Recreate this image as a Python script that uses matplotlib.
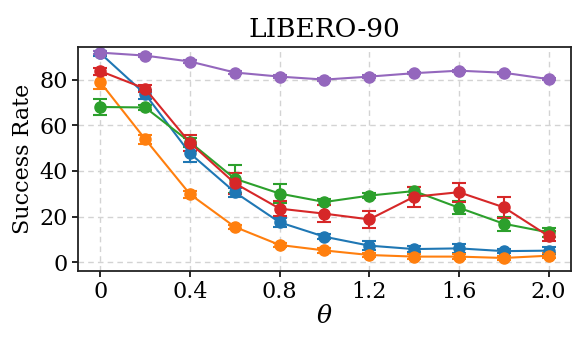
import matplotlib
matplotlib.use("Agg")
import matplotlib.pyplot as plt
import numpy as np

theta = [0, 0.2, 0.4, 0.6, 0.8, 1.0, 1.2, 1.4, 1.6, 1.8, 2.0]
xtick_vals = [0, 0.4, 0.8, 1.2, 1.6, 2.0]
xtick_labels = ["0", "0.4", "0.8", "1.2", "1.6", "2.0"]
ytick_vals = [0, 20, 40, 60, 80]

blue = [91.5, 73.6, 47.7, 30.7, 17.5, 11.2, 7.3, 5.8, 6.1, 4.9, 5.1]
blue_err = [1.0, 2.0, 3.7, 2.0, 2.0, 1.0, 2.0, 1.5, 2.0, 1.0, 1.5]
orange = [78.8, 53.9, 29.8, 15.5, 7.6, 5.2, 3.2, 2.5, 2.5, 1.9, 2.9]
orange_err = [3.0, 2.0, 1.5, 1.0, 1.0, 1.0, 1.0, 1.0, 1.0, 1.0, 1.0]
green = [68.0, 67.8, 52.6, 36.6, 30.1, 26.4, 29.2, 31.2, 23.9, 16.9, 13.1]
green_err = [3.3, 1.0, 2.0, 6.2, 4.1, 1.5, 1.0, 1.9, 2.9, 3.1, 2.0]
red = [83.7, 76.0, 52.3, 34.6, 23.5, 21.3, 18.8, 28.7, 30.7, 24.1, 11.5]
red_err = [1.5, 1.5, 3.5, 4.6, 3.4, 3.6, 3.8, 4.4, 4.2, 4.6, 2.0]
purple = [91.8, 90.5, 87.9, 83.1, 81.3, 80.0, 81.3, 82.8, 83.9, 83.0, 80.2]
purple_err = [0.5, 0.5, 0.5, 0.8, 0.5, 0.5, 0.5, 0.5, 0.5, 0.5, 0.5]

series = [
    (blue, blue_err, "#1f77b4"),
    (orange, orange_err, "#ff7f0e"),
    (green, green_err, "#2ca02c"),
    (red, red_err, "#d62728"),
    (purple, purple_err, "#9467bd"),
]

plt.rcParams["font.family"] = "DejaVu Serif"
plt.rcParams["mathtext.fontset"] = "dejavuserif"

fig = plt.figure(figsize=(5.82, 3.45), dpi=100)
ax = fig.add_axes([0.134, 0.2145, 0.847, 0.6495])

for vals, errs, col in series:
    ax.errorbar(theta, vals, yerr=errs, color=col, marker="o", markersize=8,
                linewidth=1.5, capsize=5, elinewidth=1.5, capthick=1.5)

ax.set_xlim(-0.1, 2.1)
ax.set_ylim(-3.8, 94.3)
ax.set_xticks(xtick_vals)
ax.set_xticklabels(xtick_labels)
ax.set_yticks(ytick_vals)
ax.tick_params(labelsize=16, length=4, width=1.2)
ax.set_xlabel(r"$\theta$", fontsize=18, labelpad=1)
ax.set_ylabel("Success Rate", fontsize=16, labelpad=4)
ax.set_title("LIBERO-90", fontsize=19, pad=7)
ax.grid(True, linestyle=(0, (4, 3)), color="#d3d3d3", linewidth=1.0)
ax.set_axisbelow(True)
for s in ax.spines.values():
    s.set_color("#222222")
    s.set_linewidth(1.3)

fig.savefig("out.png", dpi=100)
